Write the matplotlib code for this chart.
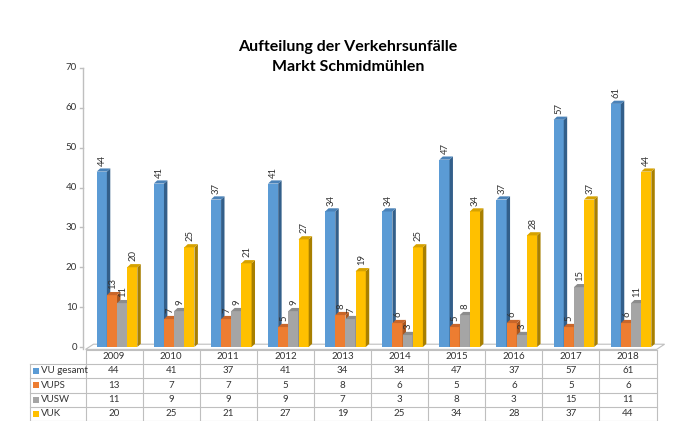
import matplotlib.pyplot as plt
from matplotlib.patches import Polygon, Rectangle

years = ["2009", "2010", "2011", "2012", "2013", "2014", "2015", "2016", "2017", "2018"]
series_names = ["VU gesamt", "VUPS", "VUSW", "VUK"]
vu_gesamt = [44, 41, 37, 41, 34, 34, 47, 37, 57, 61]
vups = [13, 7, 7, 5, 8, 6, 5, 6, 5, 6]
vusw = [11, 9, 9, 9, 7, 3, 8, 3, 15, 11]
vuk = [20, 25, 21, 27, 19, 25, 34, 28, 37, 44]
series = [vu_gesamt, vups, vusw, vuk]

front = ["#5B9BD5", "#ED7D31", "#A5A5A5", "#FFC000"]
side = ["#335F8A", "#A9561F", "#727272", "#A87F00"]
top = ["#4A82B8", "#C8662A", "#8C8C8C", "#D6A200"]

plt.rcParams["font.family"] = ["Lato", "DejaVu Sans"]

W, H = 683, 421
fig = plt.figure(figsize=(W / 100, H / 100), dpi=100)
fig.patch.set_facecolor("white")

# main plot area in pixels: x 85.5..656.6, y0 at 347, y70 at 68
x0, x1, ybot, ytop = 85.5, 656.6, 347, 68
ax = fig.add_axes([x0 / W, (H - ybot) / H, (x1 - x0) / W, (ybot - ytop) / H])
ax.set_xlim(-0.5, len(years) - 0.5)
ax.set_ylim(0, 70)
ax.axis("off")

# overlay axes in pixel coords for table / decorations
ov = fig.add_axes([0, 0, 1, 1], zorder=-1)
ov.set_xlim(0, W)
ov.set_ylim(H, 0)
ov.axis("off")

grid_c = "#BFBFBF"
txt_c = "#333333"
dx, dy = 0.06, 0.8
fdx, fdy = 0.14, 1.3

# floor
floor = Polygon([(-0.5, -0.6), (len(years) - 0.5, -0.6),
                 (len(years) - 0.5 + fdx, -0.6 + fdy), (-0.5 + fdx, -0.6 + fdy)],
                closed=True, fc="white", ec=grid_c, lw=0.8, clip_on=False, zorder=1)
ax.add_patch(floor)

# vertical axis with ticks
ax.plot([-0.54, -0.54], [-0.6, 70], color=grid_c, lw=1, clip_on=False, zorder=1)
for t in range(0, 71, 10):
    ax.plot([-0.59, -0.54], [t, t], color=grid_c, lw=1, clip_on=False)
    ax.text(-0.65, t, str(t), ha="right", va="center", fontsize=7, color=txt_c)

w = 0.178
offs = [-0.304 + w * k for k in range(4)]
for k, vals in enumerate(series):
    for i, v in enumerate(vals):
        xl = i + offs[k]
        xr = xl + w
        ax.add_patch(Rectangle((xl, 0), w, v, fc=front[k], ec="none", zorder=2 + k))
        ax.add_patch(Polygon([(xr, 0), (xr + dx, dy), (xr + dx, v + dy), (xr, v)],
                             closed=True, fc=side[k], ec="none", zorder=2 + k))
        ax.add_patch(Polygon([(xl, v), (xl + dx, v + dy), (xr + dx, v + dy), (xr, v)],
                             closed=True, fc=top[k], ec="none", zorder=2 + k))
        ax.text(xl + w / 2 + 0.01, v + dy + 0.7, str(v), rotation=90, ha="center",
                va="bottom", fontsize=6.8, color=txt_c, zorder=10)

# title
fig.text(348 / W, 1 - 47 / H, "Aufteilung der Verkehrsunfälle", ha="center", va="center",
         fontsize=11.5, fontweight="bold", color="black")
fig.text(348 / W, 1 - 67 / H, "Markt Schmidmühlen", ha="center", va="center",
         fontsize=11.5, fontweight="bold", color="black")

# data table
col_w = (x1 - x0) / len(years)
lab_x = 30
row_y = [350, 363.5, 378, 392.5, 407, 421]
ov.plot([x0, x1], [row_y[0], row_y[0]], color=grid_c, lw=0.8)
for y in row_y[1:]:
    ov.plot([lab_x, x1], [y, y], color=grid_c, lw=0.8)
ov.plot([lab_x, lab_x], [row_y[1], row_y[-1]], color=grid_c, lw=0.8)
for i in range(len(years) + 1):
    xx = x0 + i * col_w
    ov.plot([xx, xx], [row_y[0], row_y[-1]], color=grid_c, lw=0.8)

for i, yr in enumerate(years):
    ov.text(x0 + (i + 0.5) * col_w, (row_y[0] + row_y[1]) / 2, yr, ha="center",
            va="center", fontsize=7, color=txt_c)
for r, (name, vals) in enumerate(zip(series_names, series)):
    yc = (row_y[r + 1] + row_y[r + 2]) / 2
    ov.add_patch(Rectangle((lab_x + 3, yc - 3), 6, 6, fc=front[r], ec="none"))
    ov.text(lab_x + 11, yc, name, ha="left", va="center", fontsize=7, color=txt_c)
    for i, v in enumerate(vals):
        ov.text(x0 + (i + 0.5) * col_w, yc, str(v), ha="center", va="center",
                fontsize=7, color=txt_c)

plt.savefig("out.png", dpi=100)
